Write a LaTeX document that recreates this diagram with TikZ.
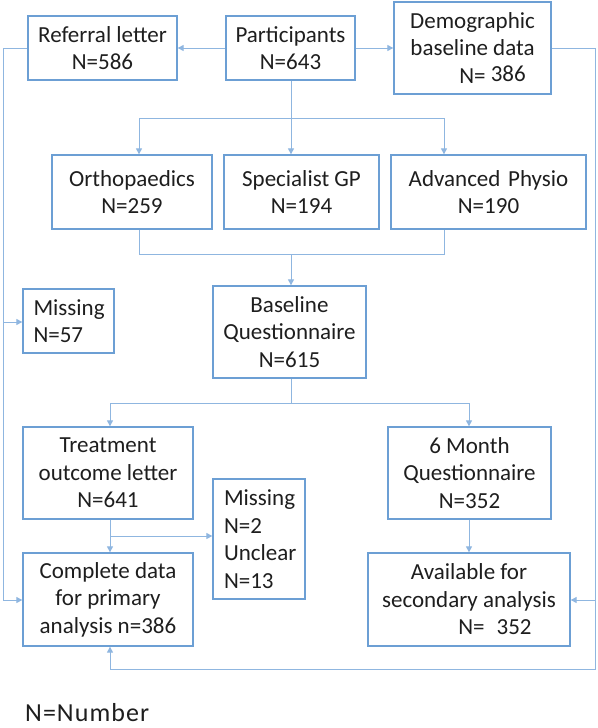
\documentclass[tikz,border=0pt]{standalone}
\usepackage{fontspec}
\setmainfont{Carlito}
\usetikzlibrary{arrows.meta}
\definecolor{boxc}{HTML}{6C9FD4}
\definecolor{linec}{HTML}{8FB6E0}
\definecolor{txt}{HTML}{1E1E1E}
\tikzset{
  box/.style={draw=boxc, line width=1.3pt, inner sep=0pt, align=center, text=txt,
    font=\fontsize{23}{27.5}\selectfont},
  conn/.style={draw=linec, line width=1pt},
  arr/.style={conn, -{Triangle[length=6pt,width=6pt]}},
}
\begin{document}
\begin{tikzpicture}[x=1pt,y=-1pt]
\useasboundingbox (0,0) rectangle (597,728);
% boxes
\node[box, minimum width=149pt, minimum height=64pt] (ref) at (102.5,48) {Referral letter\\N=586};
\node[box, minimum width=129pt, minimum height=64pt] (part) at (290.5,48) {Participants\\N=643};
\node[box, minimum width=157pt, minimum height=92pt] (demo) at (472.5,48) {Demographic\\baseline data\\\hspace*{40pt}N= \raisebox{2pt}{386}};
\node[box, minimum width=160pt, minimum height=74pt] (ortho) at (132,192) {Orthopaedics\\N=259};
\node[box, minimum width=155pt, minimum height=74pt] (spec) at (301.5,192) {Specialist GP\\N=194};
\node[box, minimum width=195pt, minimum height=74pt] (adv) at (488.5,192) {Advanced\,\,Physio\\N=190};
\node[box, minimum width=91pt, minimum height=64pt, align=left, text width=70pt] (miss1) at (68.5,321) {Missing\\N=57};
\node[box, minimum width=153pt, minimum height=92pt] (base) at (289.5,332) {Baseline\\Questionnaire\\N=615};
\node[box, minimum width=170pt, minimum height=92pt] (treat) at (108,473) {Treatment\\outcome letter\\N=641};
\node[box, minimum width=163pt, minimum height=92pt] (six) at (469.5,473) {6 Month\\Questionnaire\\N=352};
\node[box, minimum width=92pt, minimum height=120pt, align=left, text width=70pt] (miss2) at (259,539) {Missing\\N=2\\Unclear\\N=13};
\node[box, minimum width=170pt, minimum height=93pt] (comp) at (108,599.5) {Complete data\\for primary\\analysis n=386};
\node[box, minimum width=202pt, minimum height=93pt] (avail) at (469,599.5) {Available for\\secondary analysis\\\hspace*{52pt}N=\hspace{12pt}352};
\node[anchor=base west, text=txt, font=\fontsize{26}{30}\selectfont\addfontfeatures{LetterSpace=4}, inner sep=0pt] (legend) at (25,721) {N=Number};
% coordinates
\coordinate (L1) at (3,48);
\coordinate (L2) at (3,322);
\coordinate (L3) at (3,600);
\coordinate (R1) at (595,48);
\coordinate (R2) at (595,600);
\coordinate (R3) at (595,669);
\coordinate (R4) at (110,669);
\coordinate (s1) at (291,118);
\coordinate (s1a) at (139,118);
\coordinate (s1b) at (444,118);
\coordinate (s2) at (291,254);
\coordinate (s2a) at (139,254);
\coordinate (s2b) at (444,254);
\coordinate (s3) at (291,403);
\coordinate (s3a) at (110,403);
\coordinate (s3b) at (469,403);
\coordinate (s4) at (110,536);
% top row
\draw[arr] (part.west) -- (ref.east);
\draw[arr] (part.east) -- (demo.west);
% participants to clinics
\draw[conn] (part.south -| s1) -- (s1);
\draw[conn] (s1a) -- (s1b);
\draw[arr] (s1a) -- (s1a |- ortho.north);
\draw[arr] (s1) -- (s1 |- spec.north);
\draw[arr] (s1b) -- (s1b |- adv.north);
% clinics to baseline
\draw[conn] (s2a |- ortho.south) -- (s2a) -- (s2b) -- (s2b |- adv.south);
\draw[arr] (s2) -- (s2 |- base.north);
% baseline to treatment / six month
\draw[conn] (s3 |- base.south) -- (s3);
\draw[conn] (s3a) -- (s3b);
\draw[arr] (s3a) -- (s3a |- treat.north);
\draw[arr] (s3b) -- (s3b |- six.north);
% treatment to complete / missing
\draw[arr] (s4 |- treat.south) -- (s4 |- comp.north);
\draw[arr] (s4) -- (s4 -| miss2.west);
% six month to available
\draw[arr] (s3b |- six.south) -- (s3b |- avail.north);
% left loop
\draw[conn] (ref.west) -- (L1) -- (L3);
\draw[arr] (L3) -- (L3 -| comp.west);
\draw[arr] (L2) -- (L2 -| miss1.west);
% right loop
\draw[conn] (demo.east) -- (R1) -- (R3) -- (R4);
\draw[arr] (R4) -- (R4 |- comp.south);
\draw[arr] (R2) -- (R2 -| avail.east);
\end{tikzpicture}
\end{document}
